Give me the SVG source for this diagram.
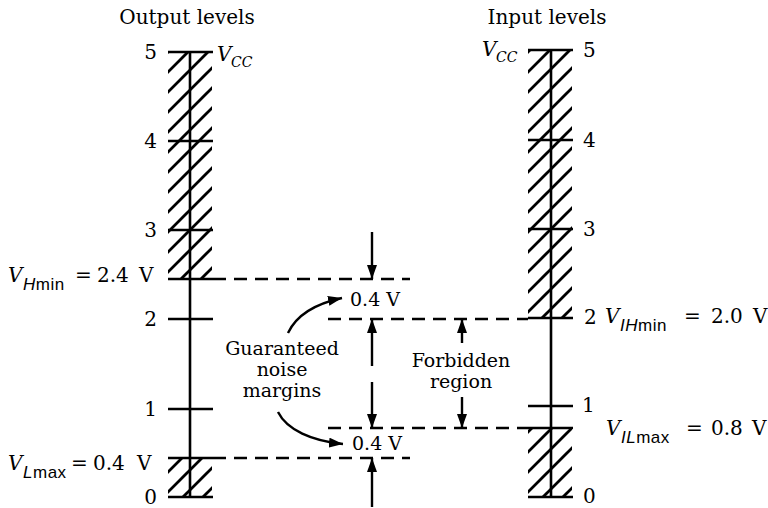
<svg xmlns="http://www.w3.org/2000/svg" width="768" height="508" viewBox="0 0 768 508">
<defs>
<pattern id="hatch" patternUnits="userSpaceOnUse" width="20" height="20">
<path d="M0,20 L20,0 M-5,5 L5,-5 M15,25 L25,15" stroke="#000" stroke-width="2.8"/>
</pattern>
<marker id="ah" markerUnits="userSpaceOnUse" markerWidth="14" markerHeight="10" refX="14" refY="5" orient="auto">
<path d="M0,0 L14,5 L0,10 z" fill="#000"/>
</marker>
<style>
text{font-family:"DejaVu Serif","Liberation Serif",serif;font-size:20px;fill:#000}
.mid{font-size:19px}
.it{font-style:italic}
.sub{font-family:"Liberation Sans","DejaVu Sans",sans-serif;font-size:17px;letter-spacing:0.5px}
.cc{font-size:14px;font-style:italic}
.ax{stroke:#000;stroke-width:2.6;fill:none}
.dash{stroke:#000;stroke-width:2.6;stroke-dasharray:13 8;fill:none}
.arr{stroke:#000;stroke-width:2.4;fill:none;marker-end:url(#ah)}
</style>
</defs>
<rect width="768" height="508" fill="#fff"/>

<g id="output-levels">
<text x="187" y="24" text-anchor="middle">Output levels</text>
<rect x="168" y="52" width="44" height="227" fill="url(#hatch)"/>
<rect x="168" y="458" width="44" height="39" fill="url(#hatch)"/>
<path class="ax" d="M190,52 V497 M168,52 H213 M168,141 H213 M168,230 H213 M168,279 H213 M168,319 H213 M168,409 H213 M168,458 H213 M168,497 H213"/>
<text x="157" y="59" text-anchor="end">5</text>
<text x="157" y="148" text-anchor="end">4</text>
<text x="157" y="237" text-anchor="end">3</text>
<text x="157" y="326" text-anchor="end">2</text>
<text x="157" y="416" text-anchor="end">1</text>
<text x="157" y="504" text-anchor="end">0</text>
<text x="217" y="61" class="it">V</text><text x="231" y="67" class="cc">CC</text>
<text x="8" y="282" class="it">V</text>
<text x="23" y="290" class="sub"><tspan font-style="italic">H</tspan>min</text>
<text x="75" y="282">=</text>
<text x="97" y="282">2.4</text><text x="139" y="282">V</text>
<text x="8" y="470" class="it">V</text>
<text x="23" y="478" class="sub"><tspan font-style="italic">L</tspan>max</text>
<text x="71" y="470">=</text>
<text x="93" y="470">0.4</text><text x="137" y="470">V</text>
</g>

<g id="input-levels">
<text x="547" y="24" text-anchor="middle">Input levels</text>
<rect x="528" y="50" width="44" height="268" fill="url(#hatch)"/>
<rect x="528" y="428" width="44" height="69" fill="url(#hatch)"/>
<path class="ax" d="M551,50 V497 M528,50 H573 M528,140 H573 M528,229 H573 M528,318 H573 M528,406 H573 M528,428 H573 M528,497 H573"/>
<text x="583" y="57">5</text>
<text x="583" y="147">4</text>
<text x="583" y="236">3</text>
<text x="584" y="324">2</text>
<text x="582" y="412">1</text>
<text x="583" y="503">0</text>
<text x="482" y="56" class="it">V</text><text x="496" y="62" class="cc">CC</text>
<text x="605" y="323" class="it">V</text>
<text x="620" y="331" class="sub"><tspan font-style="italic">IH</tspan>min</text>
<text x="684" y="323">=</text>
<text x="711" y="323">2.0</text><text x="753" y="323">V</text>
<text x="606" y="435" class="it">V</text>
<text x="621" y="443" class="sub"><tspan font-style="italic">IL</tspan>max</text>
<text x="686" y="435">=</text>
<text x="711" y="435">0.8</text><text x="752" y="435">V</text>
</g>

<g id="margin-labels">
<text x="375" y="306" text-anchor="middle" class="mid">0.4 V</text>
<text x="377" y="450" text-anchor="middle" class="mid">0.4 V</text>
<text x="282" y="355" text-anchor="middle" class="mid">Guaranteed</text>
<text x="282" y="376" text-anchor="middle" class="mid">noise</text>
<text x="282" y="397" text-anchor="middle" class="mid">margins</text>
<text x="461" y="367" text-anchor="middle" class="mid">Forbidden</text>
<text x="461" y="388" text-anchor="middle" class="mid">region</text>
</g>

<g id="connectors">
<path class="dash" d="M213,279 H410"/>
<path class="dash" d="M213,458 H410"/>
<path class="dash" d="M328,319 H528"/>
<path class="dash" d="M328,428 H528"/>
<path class="arr" d="M372,232 V279"/>
<path class="arr" d="M372,366 V319"/>
<path class="arr" d="M372,382 V428"/>
<path class="arr" d="M372,507 V458"/>
<path class="arr" d="M462,343 V319"/>
<path class="arr" d="M462,397 V428"/>
<path class="arr" d="M288,333 C296,316 314,304 342,298"/>
<path class="arr" d="M278,412 C287,430 312,441 343,444"/>
</g>
</svg>
